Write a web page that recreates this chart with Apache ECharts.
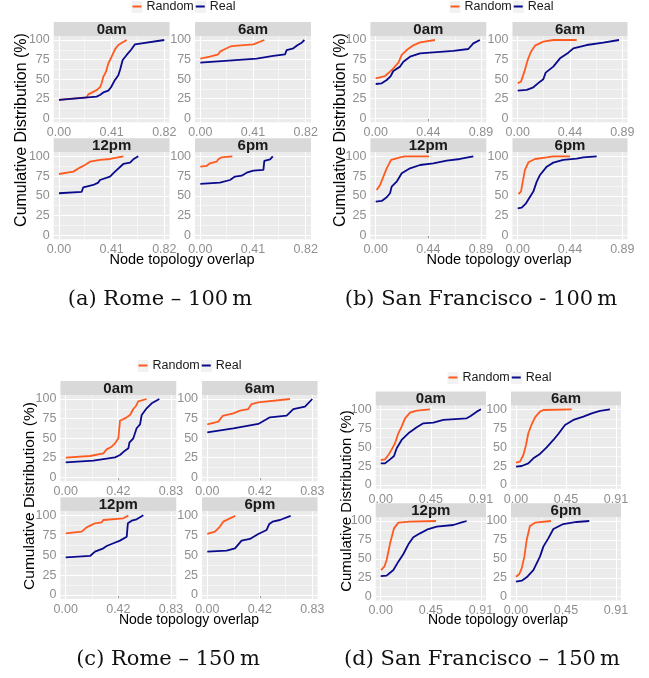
<!DOCTYPE html>
<html>
<head>
<meta charset="utf-8">
<script src="https://cdn.jsdelivr.net/npm/echarts@6/dist/echarts.min.js"></script>
<style>
  html, body { margin: 0; padding: 0; background: #fff; }
  #chart { width: 649px; height: 678px; }
</style>
</head>
<body>
<div id="chart"></div>
<script>
  // facets and ticks
  const facets = ['0am', '6am', '12pm', '6pm']
  const yTicks = [0, 25, 50, 75, 100]
  const yMinor = [12.5, 37.5, 62.5, 87.5]

  const rome100Ticks = [0, 0.41, 0.82]
  const rome100TickLabels = ['0.00', '0.41', '0.82']
  const sf100Ticks = [0, 0.445, 0.89]
  const sf100TickLabels = ['0.00', '0.44', '0.89']
  const rome150Ticks = [0, 0.415, 0.83]
  const rome150TickLabels = ['0.00', '0.42', '0.83']
  const sf150Ticks = [0, 0.455, 0.91]
  const sf150TickLabels = ['0.00', '0.45', '0.91']

  // (a) Rome - 100 m
  const rome100_0am_random = [[0, 23.4], [0.215, 26.8], [0.228, 30.6], [0.293, 36], [0.319, 39.6], [0.332, 44.7], [0.345, 53], [0.366, 59.6], [0.384, 70], [0.41, 78.7], [0.436, 88], [0.462, 93.6], [0.496, 97], [0.527, 100]]
  const rome100_0am_real = [[0, 23.4], [0.293, 27.7], [0.319, 29.8], [0.345, 33], [0.384, 35.3], [0.397, 35.3], [0.405, 39.6], [0.436, 49], [0.462, 55], [0.475, 61.7], [0.496, 74.5], [0.527, 80.9], [0.56, 87.2], [0.592, 94.5], [0.605, 95], [0.82, 100]]
  const rome100_6am_random = [[0, 76.2], [0.075, 78.7], [0.14, 81.7], [0.153, 85.1], [0.205, 89.4], [0.244, 92.3], [0.413, 94.5], [0.498, 100]]
  const rome100_6am_real = [[0, 71.1], [0.439, 76.2], [0.568, 79.6], [0.659, 81.7], [0.672, 87.2], [0.724, 89.4], [0.758, 93.6], [0.789, 96.6], [0.81, 100]]
  const rome100_12pm_random = [[0, 77.6], [0.112, 80.6], [0.163, 85.7], [0.202, 89], [0.241, 93.2], [0.319, 95.4], [0.397, 96.6], [0.501, 100]]
  const rome100_12pm_real = [[0, 53.2], [0.176, 54.9], [0.189, 60.8], [0.267, 63.7], [0.306, 66.7], [0.319, 70], [0.397, 74.3], [0.436, 80.6], [0.501, 90.3], [0.553, 92], [0.579, 96.2], [0.617, 100]]
  const rome100_6pm_random = [[0, 86.9], [0.049, 87.8], [0.075, 91.1], [0.127, 93.2], [0.14, 96.2], [0.166, 98.7], [0.249, 100]]
  const rome100_6pm_real = [[0, 65], [0.153, 66.7], [0.231, 70], [0.27, 74.3], [0.322, 75.5], [0.361, 79.3], [0.413, 81.9], [0.491, 82.7], [0.498, 94.1], [0.543, 96.2], [0.564, 100]]

  // (b) San Francisco - 100 m
  const sf100_0am_random = [[0, 51.1], [0.079, 54], [0.121, 59.6], [0.149, 63.8], [0.192, 71], [0.22, 80.9], [0.262, 87.2], [0.318, 93.2], [0.375, 97], [0.501, 100]]
  const sf100_0am_real = [[0, 43.8], [0.051, 44.7], [0.093, 48.9], [0.127, 54], [0.149, 60.4], [0.206, 66], [0.234, 72.3], [0.29, 78.7], [0.375, 83], [0.487, 84.3], [0.656, 86], [0.783, 88.5], [0.825, 95.7], [0.881, 100]]
  const sf100_6am_random = [[0, 44.7], [0.028, 46.8], [0.057, 59.6], [0.085, 74.5], [0.113, 85.1], [0.147, 92.8], [0.218, 97.9], [0.303, 100], [0.502, 100]]
  const sf100_6am_real = [[0, 35.3], [0.077, 36.2], [0.133, 39.6], [0.19, 46.8], [0.218, 49.8], [0.238, 58.3], [0.303, 66], [0.36, 76.6], [0.431, 83.8], [0.473, 89.4], [0.587, 93.6], [0.728, 96.6], [0.862, 100]]
  const sf100_12pm_random = [[0.008, 57.4], [0.037, 63.7], [0.065, 74.3], [0.093, 84.8], [0.13, 95.4], [0.206, 98.7], [0.248, 100], [0.451, 100]]
  const sf100_12pm_real = [[0, 42.6], [0.051, 43.5], [0.093, 48.1], [0.121, 53.2], [0.135, 61.6], [0.177, 67.9], [0.22, 78.5], [0.29, 84.8], [0.375, 89], [0.487, 91.1], [0.6, 94.5], [0.713, 96.6], [0.825, 100]]
  const sf100_6pm_random = [[0.006, 52.3], [0.028, 55.3], [0.043, 67.9], [0.062, 82.7], [0.091, 92.4], [0.147, 96.6], [0.247, 98.7], [0.303, 100], [0.445, 100]]
  const sf100_6pm_real = [[0, 34.2], [0.034, 35], [0.071, 40.5], [0.105, 48.9], [0.133, 55.3], [0.162, 67.9], [0.19, 76.4], [0.247, 86.9], [0.303, 92], [0.388, 95.4], [0.502, 97], [0.558, 98.7], [0.672, 100]]

  // (c) Rome - 150 m
  const rome150_0am_random = [[0, 25.1], [0.192, 27.2], [0.297, 30.6], [0.323, 35.7], [0.362, 39.1], [0.389, 43.4], [0.415, 49.8], [0.428, 72.3], [0.481, 76.6], [0.507, 79.6], [0.533, 87.2], [0.554, 91.1], [0.572, 97], [0.638, 100]]
  const rome150_0am_real = [[0, 19.1], [0.218, 21.3], [0.389, 25.5], [0.428, 28.5], [0.467, 34], [0.494, 37], [0.502, 44.3], [0.533, 49.8], [0.559, 62.6], [0.586, 67.7], [0.599, 79.6], [0.638, 88.1], [0.678, 94.5], [0.738, 100]]
  const rome150_6am_random = [[0, 67.7], [0.087, 71.1], [0.121, 78.3], [0.206, 81.7], [0.258, 85.1], [0.324, 87.2], [0.35, 93.6], [0.403, 95.7], [0.653, 100]]
  const rome150_6am_real = [[0, 57.4], [0.206, 62.6], [0.403, 68.1], [0.495, 76.6], [0.627, 78.7], [0.68, 87.2], [0.772, 90.2], [0.83, 100]]
  const rome150_12pm_random = [[0, 77.4], [0.126, 79.5], [0.165, 84.9], [0.231, 90], [0.284, 91.2], [0.297, 94.1], [0.454, 96.2], [0.494, 99.6]]
  const rome150_12pm_real = [[0, 47.3], [0.192, 49], [0.231, 54.4], [0.297, 58.6], [0.323, 61.5], [0.376, 64.9], [0.428, 68.2], [0.481, 73.2], [0.49, 90], [0.52, 93.3], [0.559, 95], [0.612, 100]]
  const rome150_6pm_random = [[0, 76.6], [0.061, 79.5], [0.1, 85.8], [0.126, 92], [0.179, 96.2], [0.221, 99.2]]
  const rome150_6pm_real = [[0, 54.4], [0.153, 55.6], [0.219, 58.6], [0.271, 68.2], [0.337, 70.3], [0.403, 76.6], [0.469, 81.6], [0.49, 89.1], [0.516, 92], [0.574, 94.1], [0.659, 99.2]]

  // (d) San Francisco - 150 m
  const sf150_0am_random = [[0, 33], [0.039, 33.9], [0.07, 39.6], [0.1, 47.1], [0.13, 55.1], [0.16, 68.3], [0.19, 77.1], [0.221, 88.1], [0.266, 95.6], [0.327, 98.2], [0.447, 100]]
  const sf150_0am_real = [[0, 28.6], [0.039, 28.6], [0.085, 33.9], [0.121, 38.3], [0.145, 48.5], [0.19, 59.5], [0.251, 68.3], [0.327, 76.2], [0.387, 81.5], [0.478, 82.4], [0.568, 85.9], [0.78, 88.1], [0.816, 91.2], [0.871, 96.9], [0.91, 100]]
  const sf150_6am_random = [[0, 29.5], [0.036, 30.8], [0.067, 39.6], [0.091, 52.9], [0.112, 68.3], [0.143, 80.2], [0.173, 89.4], [0.218, 96.9], [0.249, 99.1], [0.507, 100]]
  const sf150_6am_real = [[0, 24.2], [0.052, 25.1], [0.112, 28.6], [0.158, 35.2], [0.218, 41], [0.279, 49.8], [0.34, 59.5], [0.385, 67.4], [0.446, 79.3], [0.522, 85.9], [0.613, 90.3], [0.689, 94.7], [0.764, 97.8], [0.855, 100]]
  const sf150_12pm_random = [[0.003, 35.2], [0.033, 39.6], [0.054, 48.5], [0.085, 70.5], [0.121, 90.3], [0.16, 97.8], [0.266, 99.1], [0.502, 100]]
  const sf150_12pm_real = [[0, 27.3], [0.054, 27.8], [0.115, 35.2], [0.16, 46.3], [0.206, 56.4], [0.251, 69.2], [0.296, 78.4], [0.357, 83.7], [0.432, 89.4], [0.508, 92.5], [0.659, 94.7], [0.735, 98.2], [0.78, 100]]
  const sf150_6pm_random = [[0, 26.4], [0.03, 30], [0.052, 37.4], [0.076, 52.9], [0.097, 74.9], [0.127, 93.4], [0.173, 97.8], [0.319, 100]]
  const sf150_6pm_real = [[0, 19.8], [0.052, 21.1], [0.097, 25.6], [0.158, 35.2], [0.218, 52.9], [0.249, 66.1], [0.294, 77.1], [0.34, 89.4], [0.43, 96], [0.552, 98.7], [0.667, 100]]

  const RANDOM_COLOR = '#FF5A1F'
  const REAL_COLOR = '#0A0A8C'
  const FONT = 'Liberation Sans, Arial, sans-serif'

  // pixel layout of each sub figure: p0 = x pixel of 0, w = pixels to last tick, p100 = y pixel of 100, h = pixels 0..100
  const panels = [
    {
      caption: '(a) Rome – 100\u2009m', capX: 160, capY: 300,
      ticks: rome100Ticks, tickLabels: rome100TickLabels,
      curves: [[rome100_0am_random, rome100_0am_real], [rome100_6am_random, rome100_6am_real], [rome100_12pm_random, rome100_12pm_real], [rome100_6pm_random, rome100_6pm_real]],
      cols: [{ p0: 59, w: 105.3 }, { p0: 200.3, w: 105.4 }],
      rows: [{ p100: 40, h: 78.3 }, { p100: 156.3, h: 79 }],
      legend: { x: 184, y: 7 }, xTitle: { x: 182, y: 260, size: 14.5 }, yTitle: { x: 22, y: 130, size: 16 }
    },
    {
      caption: '(b) San Francisco - 100\u2009m', capX: 481, capY: 300,
      ticks: sf100Ticks, tickLabels: sf100TickLabels,
      curves: [[sf100_0am_random, sf100_0am_real], [sf100_6am_random, sf100_6am_real], [sf100_12pm_random, sf100_12pm_real], [sf100_6pm_random, sf100_6pm_real]],
      cols: [{ p0: 375.7, w: 105.3 }, { p0: 517.7, w: 104.6 }],
      rows: [{ p100: 40, h: 78.3 }, { p100: 156.3, h: 79 }],
      legend: { x: 502, y: 7 }, xTitle: { x: 499, y: 260, size: 14.5 }, yTitle: { x: 341, y: 130, size: 16 }
    },
    {
      caption: '(c) Rome – 150\u2009m', capX: 168, capY: 660,
      ticks: rome150Ticks, tickLabels: rome150TickLabels,
      curves: [[rome150_0am_random, rome150_0am_real], [rome150_6am_random, rome150_6am_real], [rome150_12pm_random, rome150_12pm_real], [rome150_6pm_random, rome150_6pm_real]],
      cols: [{ p0: 65.7, w: 105.3 }, { p0: 207.3, w: 105 }],
      rows: [{ p100: 399, h: 78.3 }, { p100: 515.3, h: 79.7 }],
      legend: { x: 190, y: 366 }, xTitle: { x: 189, y: 620, size: 14 }, yTitle: { x: 30, y: 496, size: 15.5 }
    },
    {
      caption: '(d) San Francisco – 150\u2009m', capX: 482, capY: 660,
      ticks: sf150Ticks, tickLabels: sf150TickLabels,
      curves: [[sf150_0am_random, sf150_0am_real], [sf150_6am_random, sf150_6am_real], [sf150_12pm_random, sf150_12pm_real], [sf150_6pm_random, sf150_6pm_real]],
      cols: [{ p0: 380.7, w: 100.3 }, { p0: 516, w: 100 }],
      rows: [{ p100: 409.3, h: 75.7 }, { p100: 521, h: 75.7 }],
      legend: { x: 500, y: 378 }, xTitle: { x: 498, y: 620, size: 14 }, yTitle: { x: 347, y: 501, size: 15 }
    }
  ]

  const chart = echarts.init(document.getElementById('chart'), null, { renderer: 'canvas' })

  const option = {
    animation: false,
    textStyle: { fontFamily: FONT },
    grid: [],
    xAxis: [],
    yAxis: [],
    legend: [],
    series: [],
    graphic: []
  }

  panels.forEach(p => {
    const M = p.ticks[2]
    const xMinor = [M / 4, M * 3 / 4]
    facets.forEach((facet, i) => {
      const c = p.cols[i % 2]
      const r = p.rows[Math.floor(i / 2)]
      const left = c.p0 - 0.05 * c.w
      const width = 1.1 * c.w
      const top = r.p100 - 0.05 * r.h
      const height = 1.1 * r.h
      const gi = option.grid.length

      option.grid.push({ left, top, width, height, show: true, backgroundColor: '#EBEBEB', borderWidth: 0, containLabel: false })

      option.xAxis.push({
        type: 'value', gridIndex: gi, min: -0.05 * M, max: 1.05 * M,
        axisLine: { show: false },
        splitLine: { show: false },
        axisTick: { show: true, customValues: p.ticks, length: 3, lineStyle: { color: '#8f8f8f', width: 1 } },
        axisLabel: {
          customValues: p.ticks, margin: 4, fontSize: 12.5, color: '#8f8f8f',
          formatter: v => {
            let k = 0
            p.ticks.forEach((t, j) => { if (Math.abs(t - v) < Math.abs(p.ticks[k] - v)) k = j })
            return p.tickLabels[k]
          }
        }
      })

      option.yAxis.push({
        type: 'value', gridIndex: gi, min: -5, max: 105,
        axisLine: { show: false },
        splitLine: { show: false },
        axisTick: { show: true, customValues: yTicks, length: 3, lineStyle: { color: '#8f8f8f', width: 1 } },
        axisLabel: { customValues: yTicks, margin: 4, fontSize: 12.5, color: '#8f8f8f' }
      })

      // facet strip
      option.graphic.push({
        type: 'rect', silent: true, z: 1,
        shape: { x: left, y: top - 14, width, height: 14 },
        style: { fill: '#D9D9D9' }
      })
      option.graphic.push({
        type: 'text', silent: true, z: 2, x: left + width / 2, y: top - 6.5,
        style: { text: facet, font: 'bold 15px ' + FONT, fill: '#1a1a1a', align: 'center', verticalAlign: 'middle' }
      })

      const gridLines = [
        ...yTicks.map(v => ({ yAxis: v, lineStyle: { width: 1.1 } })),
        ...yMinor.map(v => ({ yAxis: v, lineStyle: { width: 0.5 } })),
        ...p.ticks.map(v => ({ xAxis: v, lineStyle: { width: 1.1 } })),
        ...xMinor.map(v => ({ xAxis: v, lineStyle: { width: 0.5 } }))
      ]

      option.series.push({
        name: 'Random', type: 'line', xAxisIndex: gi, yAxisIndex: gi,
        data: p.curves[i][0], showSymbol: false, symbol: 'none', z: 3,
        itemStyle: { color: RANDOM_COLOR },
        lineStyle: { color: RANDOM_COLOR, width: 1.8 }
      })
      option.series.push({
        name: 'Real', type: 'line', xAxisIndex: gi, yAxisIndex: gi,
        data: p.curves[i][1], showSymbol: false, symbol: 'none', z: 3,
        itemStyle: { color: REAL_COLOR },
        lineStyle: { color: REAL_COLOR, width: 1.8 },
        markLine: {
          z: 1, silent: true, symbol: 'none', animation: false,
          label: { show: false },
          emphasis: { disabled: true },
          lineStyle: { color: '#ffffff', type: 'solid' },
          data: gridLines
        }
      })
    })

    // legend: key 9 + gap 5 + "Random" ~47 + itemGap 2 + key 9 + gap 5 + "Real" ~26
    const legLeft = p.legend.x - 51.5
    option.graphic.push({
      type: 'rect', silent: true, z: 0,
      shape: { x: legLeft - 1, y: p.legend.y - 6, width: 11, height: 12 },
      style: { fill: '#F2F2F2' }
    })
    option.graphic.push({
      type: 'rect', silent: true, z: 0,
      shape: { x: legLeft + 63.5 - 1, y: p.legend.y - 6, width: 11, height: 12 },
      style: { fill: '#F2F2F2' }
    })

    option.legend.push({
      data: ['Random', 'Real'],
      left: legLeft, top: p.legend.y - 7,
      padding: 0, itemGap: 2, itemWidth: 9, itemHeight: 2, icon: 'rect',
      selectedMode: false, z: 5,
      textStyle: { fontSize: 12.5, color: '#1a1a1a' }
    })

    option.graphic.push({
      type: 'text', silent: true, x: p.xTitle.x, y: p.xTitle.y,
      style: { text: 'Node topology overlap', font: p.xTitle.size + 'px ' + FONT, fill: '#000', align: 'center', verticalAlign: 'middle' }
    })
    option.graphic.push({
      type: 'text', silent: true, x: p.yTitle.x, y: p.yTitle.y, rotation: Math.PI / 2,
      style: { text: 'Cumulative Distribution (%)', font: p.yTitle.size + 'px ' + FONT, fill: '#000', align: 'center', verticalAlign: 'middle' }
    })
    option.graphic.push({
      type: 'text', silent: true, x: p.capX, y: p.capY,
      style: { text: p.caption, font: '21px DejaVu Serif, serif', fill: '#111', align: 'center', verticalAlign: 'middle' }
    })
  })

  chart.setOption(option)
</script>
</body>
</html>
